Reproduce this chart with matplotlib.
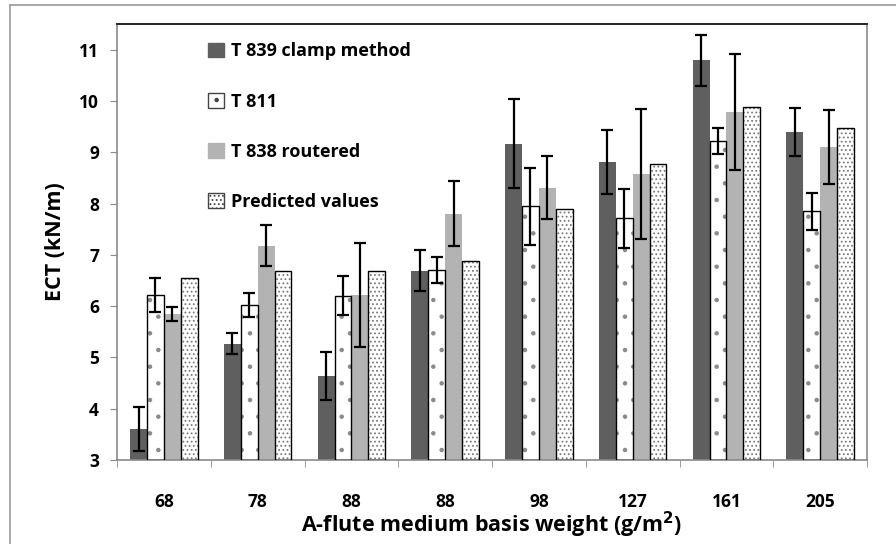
import numpy as np
import matplotlib.pyplot as plt
from matplotlib.patches import Patch
from matplotlib.lines import Line2D

plt.rcParams['font.family'] = ['Open Sans', 'DejaVu Sans']
plt.rcParams['font.weight'] = 'bold'
plt.rcParams['hatch.linewidth'] = 0.8

# Data
categories = ['68', '78', '88', '88', '98', '127', '161', '205']
t839 = [3.61, 5.27, 4.64, 6.69, 9.17, 8.81, 10.79, 9.39]
t839_err = [0.43, 0.20, 0.47, 0.40, 0.86, 0.63, 0.50, 0.47]
t811 = [6.22, 6.02, 6.20, 6.70, 7.95, 7.71, 9.22, 7.85]
t811_err = [0.33, 0.23, 0.38, 0.25, 0.75, 0.58, 0.25, 0.36]
t838 = [5.85, 7.18, 6.22, 7.80, 8.31, 8.57, 9.79, 9.11]
t838_err = [0.14, 0.40, 1.02, 0.63, 0.61, 1.27, 1.13, 0.72]
predicted = [6.54, 6.68, 6.68, 6.87, 7.90, 8.78, 9.88, 9.48]

fig = plt.figure(figsize=(8.96, 5.44), dpi=100)
ax = fig.add_axes([117/896, 1 - 460/544, (867-117)/896, (460-24)/544])

x = np.arange(len(categories))
w = 0.18
base = 3
errkw = dict(ecolor='black', elinewidth=1.6, capsize=4, capthick=1.6)

# T 839 clamp method
ax.bar(x - 1.5*w, np.array(t839) - base, w, bottom=base, color='#5f5f5f', zorder=2)
ax.errorbar(x - 1.5*w, t839, yerr=t839_err, fmt='none', zorder=4, **errkw)

# T 811 (sparse dots, black outline)
ax.bar(x - 0.5*w, np.array(t811) - base, w, bottom=base, color='white',
       edgecolor='#8a8a8a', hatch='.', linewidth=0, zorder=2)
ax.bar(x - 0.5*w, np.array(t811) - base, w, bottom=base, fill=False,
       edgecolor='black', linewidth=1.0, zorder=3)
ax.errorbar(x - 0.5*w, t811, yerr=t811_err, fmt='none', zorder=4, **errkw)

# T 838 routered
ax.bar(x + 0.5*w, np.array(t838) - base, w, bottom=base, color='#b3b3b3', zorder=2)
ax.errorbar(x + 0.5*w, t838, yerr=t838_err, fmt='none', zorder=4, **errkw)

# Predicted values (dense dots)
ax.bar(x + 1.5*w, np.array(predicted) - base, w, bottom=base, color='white',
       edgecolor='#7a7a7a', hatch='....', linewidth=0, zorder=2)
ax.bar(x + 1.5*w, np.array(predicted) - base, w, bottom=base, fill=False,
       edgecolor='black', linewidth=1.0, zorder=3)

ax.set_xlim(-0.5, len(categories) - 0.5)
ax.set_ylim(3, 11.5)
ax.set_yticks(np.arange(3, 12, 1))
ax.set_xticks(x)
ax.set_xticklabels(categories)
ax.set_xticks(np.arange(-0.5, len(categories)), minor=True)
ax.tick_params(axis='x', which='major', length=0, pad=24, labelsize=12.5)
ax.tick_params(axis='x', which='minor', length=5, color='#8a8a8a', direction='out')
ax.tick_params(axis='y', length=5, color='#8a8a8a', labelsize=12.5, pad=8)

for s in ['left', 'bottom', 'right']:
    ax.spines[s].set_color('#8a8a8a')
    ax.spines[s].set_linewidth(1.2)
ax.spines['top'].set_color('black')
ax.spines['top'].set_linewidth(1.2)

ax.set_ylabel('ECT (kN/m)', fontsize=15.5, fontweight='bold', labelpad=9)
ax.set_xlabel('A-flute medium basis weight (g/m$^\\mathbf{2}$)', fontsize=15.5,
              fontweight='bold', labelpad=-1)

handles = [Patch(facecolor='#5f5f5f', edgecolor='#5f5f5f'),
           Patch(facecolor='white', edgecolor='#444444', hatch='.'),
           Patch(facecolor='#b3b3b3', edgecolor='#b3b3b3'),
           Patch(facecolor='white', edgecolor='#444444', hatch='....')]
labels = ['T 839 clamp method', 'T 811', 'T 838 routered', 'Predicted values']
leg = ax.legend(handles, labels, loc='upper left', bbox_to_anchor=(0.1, 0.995),
                frameon=False, fontsize=13, labelspacing=1.78,
                handlelength=0.85, handleheight=0.85, handletextpad=0.4)

# outer chart border (top and left visible)
fig.add_artist(Line2D([10/896, 10/896], [0, 1 - 5/544], color='#9a9a9a', lw=1.2))
fig.add_artist(Line2D([10/896, 1], [1 - 5/544, 1 - 5/544], color='#9a9a9a', lw=1.2))

fig.savefig('out.png', dpi=100)
